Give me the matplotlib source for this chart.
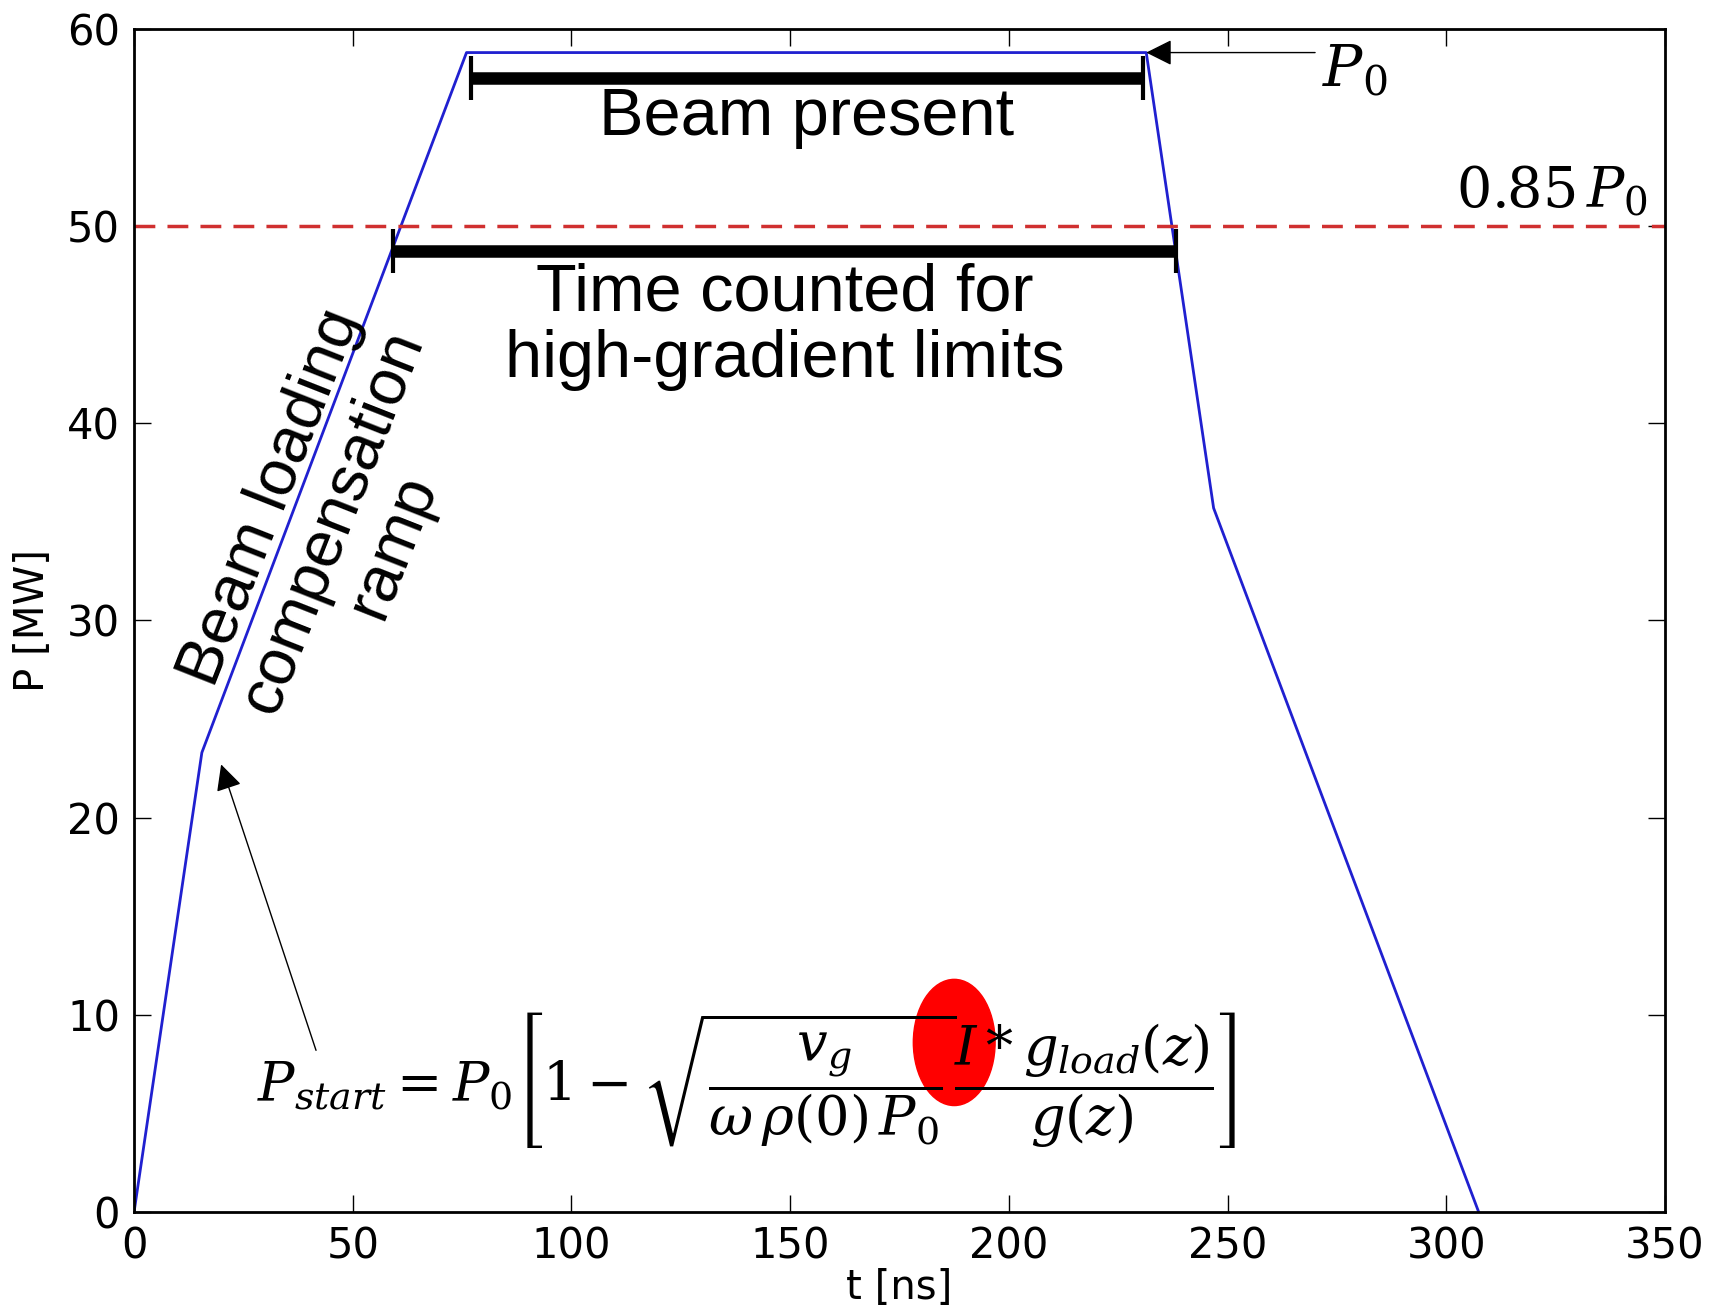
import matplotlib
matplotlib.use("Agg")
import matplotlib.pyplot as plt
from matplotlib.patches import Ellipse

# pulse shape
t_pulse = [0, 15.5, 76.0, 231.4, 246.8, 307.4]
p_pulse = [0, 23.3, 58.8, 58.8, 35.7, 0]
p0 = 58.8
threshold = 0.85 * p0

# horizontal markers: (start, stop, level)
beam_present = (77.0, 230.6, 57.5)
time_counted = (59.1, 238.3, 48.75)

plt.rcParams['mathtext.fontset'] = 'dejavuserif'
label_font = ['Liberation Sans', 'DejaVu Sans']

fig = plt.figure(figsize=(17.1, 13.14), dpi=100)
ax = fig.add_axes([0.0784, 0.0776, 0.8953, 0.9004])

ax.plot(t_pulse, p_pulse, color='#2020d0', lw=2)
ax.axhline(threshold, color='#d03030', lw=2.5, ls=(0, (6, 3.5)))

for start, stop, level in [beam_present, time_counted]:
    ax.errorbar((start + stop) / 2, level, xerr=(stop - start) / 2, fmt='none',
                ecolor='k', elinewidth=9, capsize=16, capthick=3)

ax.text(153.8, 55.5, 'Beam present', ha='center', va='center',
        fontsize=48, family=label_font)
ax.text(148.8, 44.9, 'Time counted for\nhigh-gradient limits', ha='center',
        va='center', fontsize=48, family=label_font, linespacing=1.1)
ax.text(45.3, 35.0, 'Beam loading\ncompensation\nramp', ha='center', va='center',
        rotation=68.5, fontsize=47, family=label_font, linespacing=1.12,
        rotation_mode='anchor')

# P0 marker
ax.annotate('', xy=(t_pulse[3], p0), xytext=(270, p0),
            arrowprops=dict(arrowstyle='-|>', color='k', lw=1, mutation_scale=40,
                            shrinkA=0, shrinkB=0))
ax.text(271.5, 57.9, r'$P_0$', fontsize=42, va='center', ha='left')
ax.text(346, 51.7, r'$0.85\,P_0$', fontsize=40, ha='right', va='center')

# formula with highlight
ax.add_patch(Ellipse((187.5, 8.6), 18.7, 6.4, color='red', zorder=1))
ax.text(140.0, 6.7,
        r'$P_{start}=P_0\left[1-\sqrt{\dfrac{v_g}{\omega\,\rho(0)\,P_0}}\dfrac{I*g_{load}(z)}{g(z)}\right]$',
        fontsize=39, ha='center', va='center', zorder=3)
ax.annotate('', xy=(19.9, 22.7), xytext=(41.6, 8.2),
            arrowprops=dict(arrowstyle='-|>', color='k', lw=1, mutation_scale=40,
                            shrinkA=0, shrinkB=0))

ax.set_xlim(0, 350)
ax.set_ylim(0, 60)
ax.set_xticks(range(0, 351, 50))
ax.set_yticks(range(0, 61, 10))
ax.tick_params(direction='in', top=True, right=True, length=12, width=1,
               labelsize=30, pad=10)
for s in ax.spines.values():
    s.set_linewidth(2)
ax.set_xlabel('t [ns]', fontsize=29, labelpad=0)
ax.set_ylabel('P [MW]', fontsize=29, labelpad=10)

fig.savefig('out.png', dpi=100)
